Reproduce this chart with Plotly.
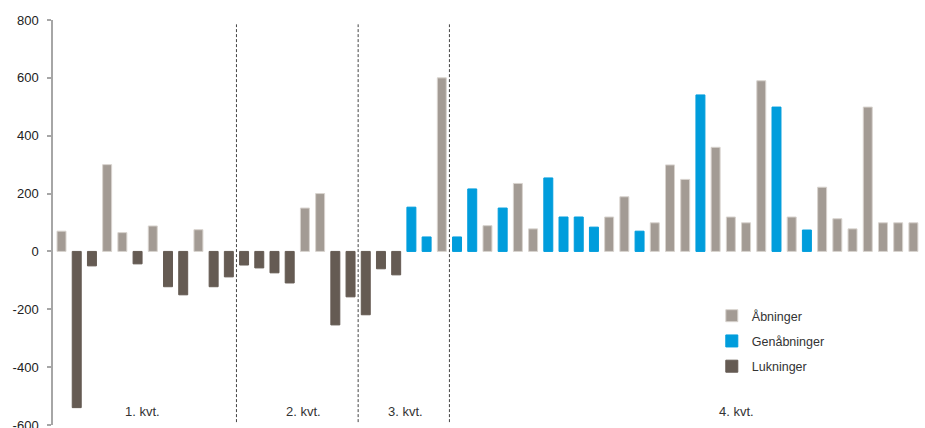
import plotly.graph_objects as go

# Values per quarter (in slot order) and the series each bar belongs to
# A = Åbninger, G = Genåbninger, L = Lukninger
q1_values = [70, -540, -50, 300, 65, -43, 88, -122, -150, 75, -122, -88]
q1_types = ["A", "L", "L", "A", "A", "L", "A", "L", "L", "A", "L", "L"]
q2_values = [-47, -57, -74, -109, 150, 200, -254, -157]
q2_types = ["L", "L", "L", "L", "A", "A", "L", "L"]
q3_values = [-219, -60, -81, 153, 50, 600]
q3_types = ["L", "L", "L", "G", "G", "A"]
q4_values = [50, 216, 89, 150, 235, 78, 254, 119, 119, 84, 119, 189, 70, 99, 299,
             249, 541, 360, 119, 99, 590, 499, 119, 74, 222, 113, 78, 499, 99, 99, 99]
q4_types = ["G", "G", "A", "G", "A", "A", "G", "G", "G", "G", "A", "A", "G", "A", "A",
            "A", "G", "A", "A", "A", "A", "G", "A", "G", "A", "A", "A", "A", "A", "A", "A"]

quarter_labels = ["1. kvt.", "2. kvt.", "3. kvt.", "4. kvt."]
series_names = {"A": "Åbninger", "G": "Genåbninger", "L": "Lukninger"}
series_colors = {"A": "#a39b94", "G": "#009ddc", "L": "#655b53"}
series_lines = {"A": "#d8d3ce", "G": "#009ddc", "L": "#655b53"}
y_ticks = [-600, -400, -200, 0, 200, 400, 600, 800]
y_ticktext = ["-600", "-400", "-200", "0", "200", "400", "600", "800"]

quarters = [(q1_values, q1_types), (q2_values, q2_types),
            (q3_values, q3_types), (q4_values, q4_types)]

all_values, all_types, bounds = [], [], []
for vals, typs in quarters:
    start = len(all_values)
    all_values += vals
    all_types += typs
    bounds.append((start, len(all_values) - 1))
x_idx = list(range(len(all_values)))

fig = go.Figure()
for key in ["A", "G", "L"]:
    ys = [v if t == key else None for v, t in zip(all_values, all_types)]
    fig.add_trace(go.Bar(
        x=x_idx, y=ys, name=series_names[key], legendgroup=key,
        marker=dict(color=series_colors[key],
                    line=dict(color=series_lines[key], width=1)),
    ))

# Dashed separators between quarters
for (s, e) in bounds[:-1]:
    fig.add_shape(type="line", xref="x", yref="y", x0=e + 0.5, x1=e + 0.5,
                  y0=-590, y1=785, line=dict(color="#444444", width=1, dash="3px,2px"))

# Quarter labels
for lab, (s, e), xpos in zip(quarter_labels, bounds, [5.35, 15.9, 22.6, 44.4]):
    fig.add_annotation(x=xpos, y=-555, xref="x", yref="y", text=lab, showarrow=False,
                       font=dict(size=13, color="#333333", family="Liberation Sans, Arial"))

fig.update_layout(
    width=925, height=428,
    margin=dict(l=53, r=4, t=20, b=3, autoexpand=False),
    paper_bgcolor="white", plot_bgcolor="white",
    barmode="overlay", bargap=0.41,
    font=dict(family="Liberation Sans, Arial", size=12.5, color="#222222"),
    showlegend=True,
    legend=dict(x=0.759, y=0.306, xanchor="left", yanchor="top",
                traceorder="grouped", tracegroupgap=6,
                font=dict(size=12.5, color="#333333"), bgcolor="rgba(0,0,0,0)"),
    xaxis=dict(range=[-0.56, len(all_values) - 0.5], visible=False, showgrid=False,
               zeroline=False, automargin=False),
    yaxis=dict(range=[-600, 800], tickvals=y_ticks, ticktext=y_ticktext,
               showgrid=False, zeroline=False, automargin=False,
               showline=True, linecolor="#a6a6a6", linewidth=1.5,
               ticks="outside", ticklen=4, tickcolor="#a6a6a6", tickwidth=1.5,
               ticklabelstandoff=6, ticklabeloverflow="allow",
               tickfont=dict(size=13, color="#222222", family="Liberation Sans, Arial")),
)

fig.write_html("out.html")
